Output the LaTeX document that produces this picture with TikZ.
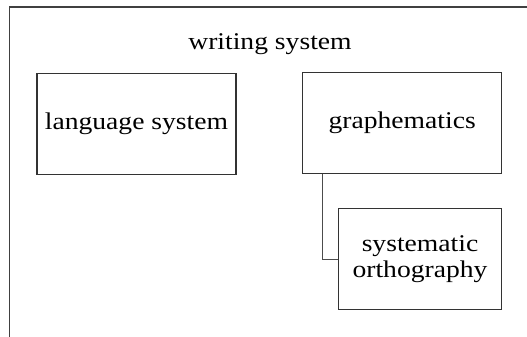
\documentclass[tikz,border=0pt]{standalone}
\usepackage{fontspec}
\setmainfont[FakeStretch=1.15]{Liberation Serif}
\begin{document}
\begin{tikzpicture}[x=1pt,y=-1pt,
  frameline/.style={draw=black!75,line width=1.1pt},
  boxnode/.style={draw=black!80,line width=1.1pt,inner sep=0pt,align=center,
    font=\fontsize{24}{26.5}\selectfont},
  titlenode/.style={inner sep=0pt,font=\fontsize{24}{26.5}\selectfont},
  link/.style={draw=black!70,line width=1.1pt}]
\useasboundingbox (0,0) rectangle (527,337);
\coordinate (tr) at (527,7);
\coordinate (tl) at (9.3,7);
\coordinate (bl) at (9.3,337);
\draw[frameline] (tr) -- (tl) -- (bl);
\node[titlenode,anchor=base] (title) at (270,50) {writing system};
\node[boxnode,minimum width=199pt,minimum height=100.6pt] (lang) at (136.5,124) {language system};
\node[boxnode,minimum width=199pt,minimum height=101pt] (graph) at (402.2,123.2) {graphematics};
\node[boxnode,minimum width=163.4pt,minimum height=101pt] (syst) at (420,259.2) {systematic\\orthography};
\coordinate (cx) at (322.3,0);
\draw[link] (graph.south -| cx) |- (syst.west);
\end{tikzpicture}
\end{document}
